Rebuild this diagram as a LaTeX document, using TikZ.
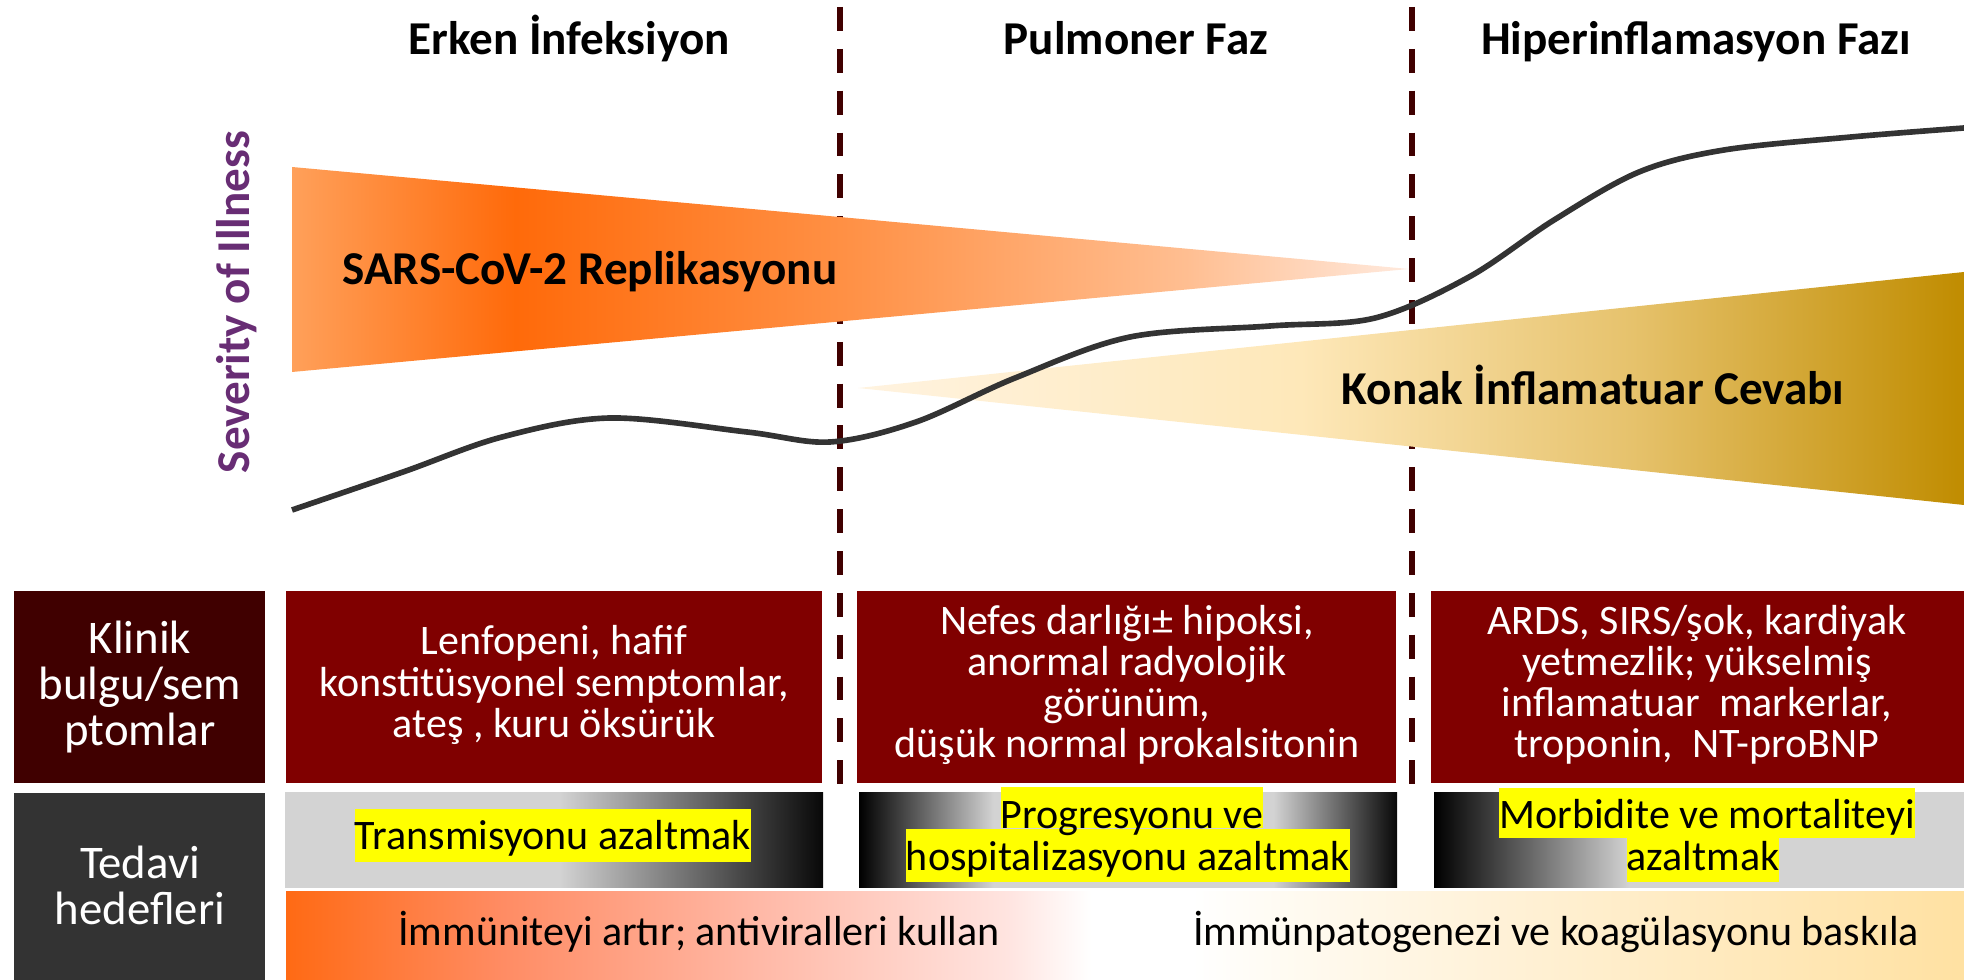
\documentclass[tikz,border=0pt]{standalone}
\usepackage{fontspec}
\setmainfont{Carlito}
\usepackage{xcolor}
\usepackage{tikz}
\usetikzlibrary{calc}
\definecolor{darkmaroon}{RGB}{64, 0, 0}
\definecolor{boxred}{RGB}{128, 0, 0}
\definecolor{labelgray}{RGB}{51, 51, 51}
\definecolor{curvegray}{RGB}{51, 51, 51}
\definecolor{severitypurple}{RGB}{104, 45, 116}
\definecolor{hlyellow}{RGB}{255, 255, 0}
\definecolor{panelgray}{RGB}{211, 211, 211}
\definecolor{paneldark}{RGB}{8, 8, 8}
% replication wedge
\definecolor{repA}{RGB}{255, 160, 90}
\definecolor{repB}{RGB}{255, 106, 10}
\definecolor{repC}{RGB}{255, 145, 70}
\definecolor{repD}{RGB}{255, 190, 145}
\definecolor{repE}{RGB}{255, 234, 222}
% inflammation wedge
\definecolor{infA}{RGB}{255, 243, 224}
\definecolor{infB}{RGB}{254, 232, 185}
\definecolor{infC}{RGB}{230, 194, 108}
\definecolor{infD}{RGB}{192, 140, 0}
% bottom bar
\definecolor{barA}{RGB}{255, 106, 20}
\definecolor{barB}{RGB}{255, 140, 100}
\definecolor{barC}{RGB}{255, 184, 166}
\definecolor{barD}{RGB}{255, 228, 224}
\definecolor{barE}{RGB}{255, 252, 245}
\definecolor{barF}{RGB}{255, 241, 214}
\definecolor{barG}{RGB}{255, 225, 162}

\pgfdeclarehorizontalshading{replicshade}{100bp}{color(0bp)=(repA); color(25bp)=(repA); color(35bp)=(repB); color(50bp)=(repC); color(65bp)=(repD); color(75bp)=(repE); color(100bp)=(repE)}
\pgfdeclarehorizontalshading{inflamshade}{100bp}{color(0bp)=(infA); color(25bp)=(infA); color(45bp)=(infB); color(60bp)=(infC); color(75bp)=(infD); color(100bp)=(infD)}
\pgfdeclarehorizontalshading{gradeone}{100bp}{color(0bp)=(panelgray); color(50.5bp)=(panelgray); color(75bp)=(paneldark); color(100bp)=(paneldark)}
\pgfdeclarehorizontalshading{gradetwo}{100bp}{color(0bp)=(black); color(25bp)=(black); color(37.5bp)=(panelgray); color(63.5bp)=(panelgray); color(75bp)=(paneldark); color(100bp)=(paneldark)}
\pgfdeclarehorizontalshading{gradethree}{100bp}{color(0bp)=(black); color(25bp)=(black); color(43.5bp)=(panelgray); color(100bp)=(panelgray)}
\pgfdeclarehorizontalshading{barshade}{100bp}{color(0bp)=(barA); color(25bp)=(barA); color(31.5bp)=(barB); color(39bp)=(barC); color(46.5bp)=(barD); color(49bp)=(white); color(52bp)=(white); color(54bp)=(barE); color(61.5bp)=(barF); color(75bp)=(barG); color(100bp)=(barG)}

\begin{document}
\begin{tikzpicture}[x=0.01cm, y=-0.01cm,
    phase/.style={font=\fontsize{13.4}{15}\selectfont\bfseries, anchor=base},
    rowlabel/.style={text=white, align=center, font=\fontsize{13.3}{13.1}\selectfont},
    finding/.style={text=white, align=center, font=\fontsize{11.95}{11.7}\selectfont},
    goal/.style={fill=hlyellow, anchor=base, inner xsep=0pt, inner ysep=0pt, text height=11.6pt, text depth=3.4pt, font=\fontsize{11.95}{14}\selectfont},
    strategy/.style={anchor=base, font=\fontsize{11.95}{14}\selectfont},
    phaseline/.style={line width=1.7pt, darkmaroon, dash pattern=on 6.8pt off 5.1pt}]
\useasboundingbox (0,0) rectangle (1964,980);

% Phase borders
\foreach \x in {840,1412}
    \draw[phaseline] (\x,7) -- (\x,792);

% Phase titles
\node[phase] (early) at (569,55) {Erken İnfeksiyon};
\node[phase] (pulm) at (1136,55) {Pulmoner Faz};
\node[phase] (hyper) at (1696,55) {Hiperinflamasyon Fazı};

% Y axis label
\node[rotate=90, text=severitypurple, font=\fontsize{13.4}{15}\selectfont\bfseries] (severity) at (237,302) {Severity of Illness};

% Wedges
\shade[shading=replicshade] (292,167) -- (1409,269) -- (292,372) -- cycle;
\shade[shading=inflamshade] (858,388) -- (1964,272) -- (1964,505) -- cycle;
\node[phase] (replic) at (590,285) {SARS-CoV-2 Replikasyonu};
\node[phase] (inflam) at (1593,405) {Konak İnflamatuar Cevabı};

% Severity curve
\draw[curvegray, line width=1.6pt] plot[smooth, tension=0.55] coordinates {(292,510) (403,472) (502,437) (610,418) (747,432) (830,442) (916,422) (1015,378) (1130,337) (1270,326) (1375,318) (1469,277) (1554,220) (1639,172) (1724,150) (1851,137) (1964,128)};

% Row labels
\fill[darkmaroon] (14,591) rectangle (265,783);
\fill[labelgray] (14,793) rectangle (265,980);
\node[rowlabel] (klinik) at (140,687) {Klinik\\bulgu/sem\\ptomlar};
\node[rowlabel] (tedavi) at (140,885) {Tedavi\\hedefleri};

% Clinical findings
\fill[boxred] (286,591) rectangle (822,783);
\fill[boxred] (857,591) rectangle (1396,783);
\fill[boxred] (1431,591) rectangle (1964,783);
\node[finding] (findone) at (554,685) {Lenfopeni, hafif\\konstitüsyonel semptomlar,\\ateş , kuru öksürük};
\node[finding] (findtwo) at (1127,685) {Nefes darlığı± hipoksi,\\anormal radyolojik\\görünüm,\\düşük normal prokalsitonin};
\node[finding] (findthree) at (1697,685) {ARDS, SIRS/şok, kardiyak\\yetmezlik; yükselmiş\\inflamatuar\ \ markerlar,\\troponin,\ \ NT-proBNP};

% Treatment goals
\shade[shading=gradeone] (285,793) rectangle (823,887);
\shade[shading=gradetwo] (859,793) rectangle (1397,887);
\shade[shading=gradethree] (1434,793) rectangle (1964,887);
\node[goal] (goalone) at (553,850) {Transmisyonu azaltmak};
\node[goal] (goaltwob) at (1128,870) {hospitalizasyonu azaltmak};
\node[goal, text depth=0pt] (goaltwoa) at (1132,828) {Progresyonu ve~};
\node[goal] (goalthreeb) at (1703,870) {azaltmak};
\node[goal, text depth=2.6pt] (goalthreea) at (1707,829) {Morbidite ve mortaliteyi};

% Strategy bar
\shade[shading=barshade] (286,891) rectangle (1964,980);
\node[strategy] (boost) at (699,945) {İmmüniteyi artır; antiviralleri kullan};
\node[strategy] (suppress) at (1556,945) {İmmünpatogenezi ve koagülasyonu baskıla};
\end{tikzpicture}
\end{document}
